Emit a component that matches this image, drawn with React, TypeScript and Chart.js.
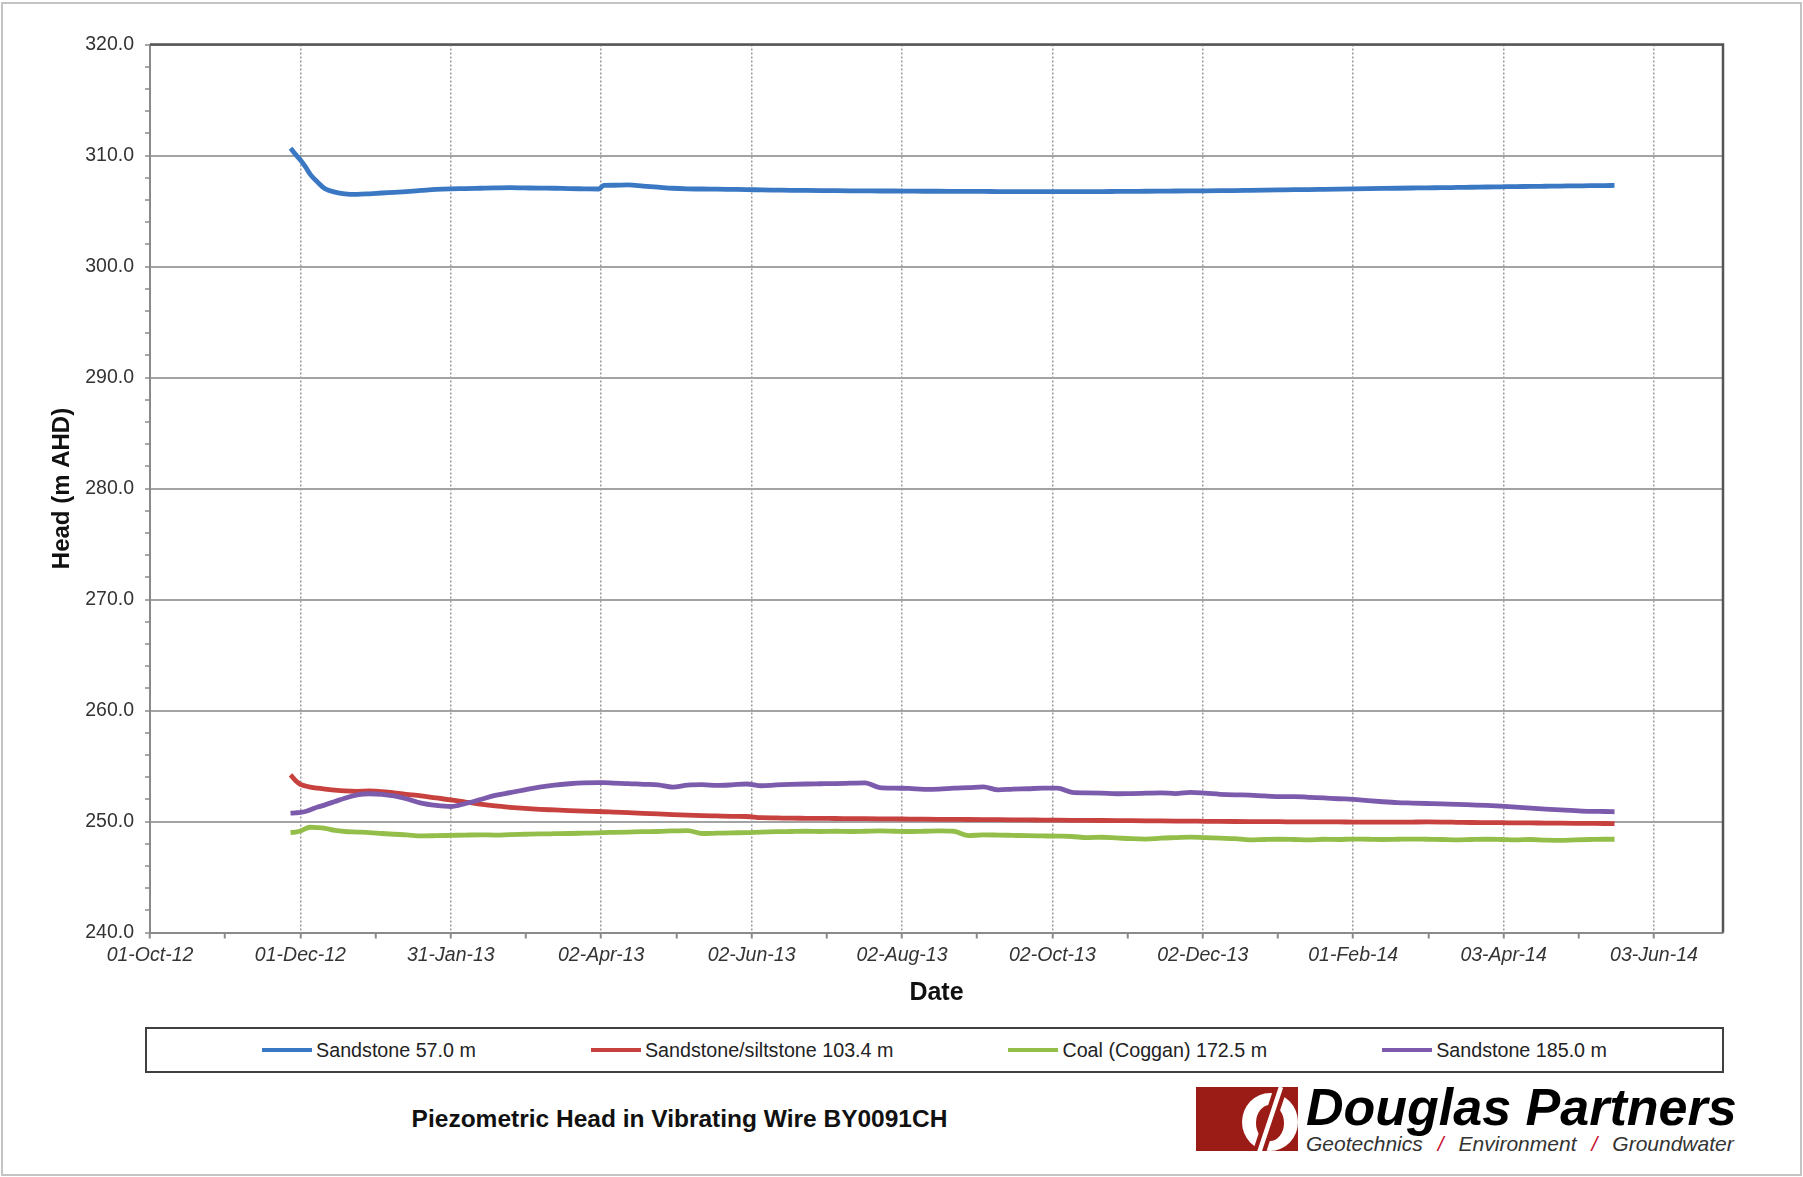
import React, { useEffect, useRef } from "react";
import { Chart, registerables } from "chart.js";

Chart.register(...registerables);

const FONT = "'Liberation Sans', Arial, Helvetica, sans-serif";

// ---- Data ----
const seriesNames = [
  "Sandstone 57.0 m",
  "Sandstone/siltstone 103.4 m",
  "Coal (Coggan) 172.5 m",
  "Sandstone 185.0 m",
];
const seriesColors = ["#3b78c4", "#c7413e", "#94be4a", "#7c5bac"];

// days since 01-Oct-12
const dayOffsets = [
  57, 59, 61, 63, 65, 68, 71, 75, 79, 84,
  89, 94, 99, 104, 110, 116, 122, 128, 134, 140,
  146, 152, 158, 164, 170, 176, 182, 184, 188, 194,
  200, 206, 212, 218, 224, 230, 236, 242, 248, 254,
  260, 266, 272, 278, 284, 290, 296, 302, 308, 314,
  320, 326, 332, 338, 344, 350, 356, 362, 368, 374,
  380, 386, 392, 398, 404, 410, 416, 422, 428, 434,
  440, 446, 452, 458, 464, 470, 476, 482, 488, 494,
  500, 506, 512, 518, 524, 530, 536, 542, 548, 554,
  560, 566, 572, 578, 584, 590, 594,
];

const sandstone57 = [
  310.65, 310.1, 309.6, 309.0, 308.3, 307.6, 307.0, 306.7, 306.55, 306.5,
  306.55, 306.62, 306.68, 306.75, 306.85, 306.95, 307.0, 307.02, 307.05, 307.08,
  307.1, 307.08, 307.06, 307.05, 307.02, 307.0, 306.98, 307.3, 307.32, 307.35,
  307.25, 307.15, 307.05, 307.0, 306.98, 306.97, 306.95, 306.93, 306.9, 306.88,
  306.86, 306.85, 306.84, 306.83, 306.82, 306.81, 306.8, 306.8, 306.79, 306.78,
  306.78, 306.77, 306.76, 306.76, 306.75, 306.75, 306.74, 306.74, 306.74, 306.74,
  306.75, 306.75, 306.76, 306.77, 306.78, 306.79, 306.8, 306.81, 306.82, 306.83,
  306.84, 306.86, 306.88, 306.9, 306.92, 306.93, 306.95, 306.97, 306.99, 307.01,
  307.03, 307.05, 307.07, 307.09, 307.1, 307.12, 307.14, 307.16, 307.18, 307.2,
  307.21, 307.23, 307.25, 307.26, 307.28, 307.29, 307.3,
];

const sandstoneSiltstone103 = [
  254.2, 253.7, 253.35, 253.2, 253.1, 253.0, 252.92, 252.82, 252.75, 252.72,
  252.75, 252.7, 252.58, 252.45, 252.3, 252.12, 251.95, 251.75, 251.56, 251.4,
  251.28, 251.18, 251.1, 251.04, 250.98, 250.93, 250.9, 250.88, 250.85, 250.8,
  250.74, 250.68, 250.62, 250.57, 250.53, 250.5, 250.47, 250.45, 250.34, 250.32,
  250.3, 250.29, 250.28, 250.27, 250.26, 250.25, 250.24, 250.23, 250.22, 250.21,
  250.2, 250.19, 250.18, 250.17, 250.16, 250.15, 250.14, 250.13, 250.12, 250.11,
  250.1, 250.09, 250.08, 250.07, 250.06, 250.05, 250.04, 250.03, 250.02, 250.01,
  250.0, 249.99, 249.98, 249.98, 249.97, 249.97, 249.96, 249.96, 249.95, 249.95,
  249.94, 249.94, 249.95, 249.96, 249.95, 249.93, 249.91, 249.9, 249.89, 249.88,
  249.87, 249.86, 249.85, 249.84, 249.83, 249.82, 249.8,
];

const coal172 = [
  249.0, 249.05, 249.15, 249.35, 249.48, 249.45, 249.38, 249.2, 249.1, 249.05,
  249.0, 248.92, 248.85, 248.8, 248.7, 248.72, 248.75, 248.78, 248.8, 248.78,
  248.82, 248.85, 248.88, 248.9, 248.92, 248.95, 248.98, 249.0, 249.02, 249.05,
  249.08, 249.1, 249.15, 249.18, 248.92, 248.95, 248.98, 249.0, 249.05, 249.08,
  249.1, 249.12, 249.1, 249.12, 249.1, 249.12, 249.15, 249.12, 249.1, 249.12,
  249.15, 249.12, 248.72, 248.8, 248.78, 248.75, 248.72, 248.7, 248.68, 248.65,
  248.55, 248.58, 248.52, 248.45, 248.42, 248.5, 248.55, 248.6, 248.55, 248.5,
  248.45, 248.35, 248.38, 248.4, 248.38, 248.35, 248.4, 248.38, 248.42, 248.4,
  248.38, 248.4, 248.42, 248.4, 248.38, 248.35, 248.38, 248.4, 248.38, 248.35,
  248.38, 248.33, 248.3, 248.35, 248.38, 248.4, 248.4,
];

const sandstone185 = [
  250.75, 250.78, 250.82, 250.9, 251.05, 251.3, 251.5, 251.8, 252.1, 252.4,
  252.5, 252.45, 252.3, 252.05, 251.65, 251.45, 251.35, 251.62, 251.98, 252.35,
  252.6, 252.85, 253.1, 253.28, 253.4, 253.48, 253.5, 253.5, 253.46, 253.42,
  253.35, 253.3, 253.1, 253.28, 253.32, 253.25, 253.3, 253.38, 253.22, 253.3,
  253.35, 253.38, 253.4, 253.42, 253.45, 253.48, 253.05, 253.0, 252.98, 252.9,
  252.92, 253.0, 253.05, 253.12, 252.85, 252.92, 252.95, 253.0, 253.0, 252.62,
  252.58, 252.55, 252.5, 252.52, 252.55, 252.58, 252.52, 252.62, 252.55, 252.45,
  252.4, 252.38, 252.3, 252.25, 252.25, 252.18, 252.12, 252.05, 252.0, 251.88,
  251.78, 251.7, 251.66, 251.62, 251.58, 251.55, 251.5, 251.45, 251.38, 251.3,
  251.2, 251.12, 251.05, 250.98, 250.92, 250.9, 250.88,
];

const seriesValues = [sandstone57, sandstoneSiltstone103, coal172, sandstone185];

// x axis: major tick positions (days since 01-Oct-12) and their labels
const xTickDays = [0, 61, 122, 183, 244, 305, 366, 427, 488, 549, 610];
const xTickLabels = [
  "01-Oct-12", "01-Dec-12", "31-Jan-13", "02-Apr-13", "02-Jun-13", "02-Aug-13",
  "02-Oct-13", "02-Dec-13", "01-Feb-14", "03-Apr-14", "03-Jun-14",
];
const xMin = 0;
const xMax = 638;

const yMin = 240;
const yMax = 320;
const yMajorStep = 10;
const yMinorStep = 2;

const chartTitle = "Piezometric Head in Vibrating Wire BY0091CH";
const xTitle = "Date";
const yTitle = "Head (m AHD)";

// ---- Helpers ----
const xAllTicks: number[] = [];
xTickDays.forEach((d, i) => {
  xAllTicks.push(d);
  if (i < xTickDays.length - 1) xAllTicks.push((d + xTickDays[i + 1]) / 2);
});
const yAllTicks: number[] = [];
for (let v = yMin; v <= yMax; v += yMinorStep) yAllTicks.push(v);

const CANVAS_W = 1803;
const CANVAS_H = 1010;
const PLOT_BOTTOM = 932.5;

const framePlugin = {
  id: "plotFrame",
  afterDraw(chart: any) {
    const { ctx, chartArea } = chart;
    const { left, top, right, bottom } = chartArea;
    ctx.save();
    ctx.strokeStyle = "#555555";
    ctx.lineWidth = 2.5;
    ctx.beginPath();
    ctx.moveTo(left, top);
    ctx.lineTo(right, top);
    ctx.lineTo(right, bottom);
    ctx.stroke();
    ctx.restore();
  },
};

export default function App() {
  const canvasRef = useRef<HTMLCanvasElement>(null);

  useEffect(() => {
    const canvas = canvasRef.current;
    if (!canvas) return;
    const chart = new Chart(canvas, {
      type: "line",
      data: {
        datasets: seriesNames.map((name, i) => ({
          label: name,
          data: dayOffsets.map((d, j) => ({ x: d, y: seriesValues[i][j] })),
          borderColor: seriesColors[i],
          backgroundColor: seriesColors[i],
          borderWidth: 4.8,
          pointRadius: 0,
          pointHoverRadius: 0,
          fill: false,
          cubicInterpolationMode: "monotone",
          order: seriesNames.length - i,
        })),
      },
      options: {
        responsive: false,
        animation: false,
        events: [],
        layout: { padding: { left: 0, right: 80, top: 44.5, bottom: 0 } },
        plugins: {
          legend: { display: false },
          tooltip: { enabled: false },
          title: { display: false },
        },
        scales: {
          x: {
            type: "linear",
            min: xMin,
            max: xMax,
            afterBuildTicks: (scale: any) => {
              scale.ticks = xAllTicks.map((v) => ({ value: v }));
            },
            afterFit: (scale: any) => {
              scale.height = CANVAS_H - PLOT_BOTTOM;
            },
            ticks: {
              autoSkip: false,
              maxRotation: 0,
              minRotation: 0,
              padding: 5,
              color: "#333333",
              font: { family: FONT, size: 19.5, style: "italic" },
              callback: (value: any) => {
                const i = xTickDays.indexOf(Number(value));
                return i >= 0 ? xTickLabels[i] : "";
              },
            },
            grid: {
              color: (ctx: any) =>
                ctx.tick && xTickDays.indexOf(ctx.tick.value) >= 0 ? "#9a9a9a" : "rgba(0,0,0,0)",
              lineWidth: 1.5,
              drawTicks: true,
              tickLength: 6,
              tickColor: "#8a8a8a",
              tickWidth: 2,
            },
            border: { display: true, color: "#8a8a8a", width: 2, dash: [2, 2] },
            title: {
              display: true,
              text: xTitle,
              color: "#111111",
              font: { family: FONT, size: 25, weight: "bold" },
              padding: { top: 0, bottom: 2 },
            },
          },
          y: {
            type: "linear",
            min: yMin,
            max: yMax,
            afterBuildTicks: (scale: any) => {
              scale.ticks = yAllTicks.map((v) => ({ value: v }));
            },
            afterFit: (scale: any) => {
              scale.width = 150;
            },
            ticks: {
              autoSkip: false,
              padding: 11,
              color: "#333333",
              font: { family: FONT, size: 19.5 },
              callback: (value: any) =>
                Number(value) % yMajorStep === 0 ? Number(value).toFixed(1) : "",
            },
            grid: {
              color: (ctx: any) =>
                ctx.tick && ctx.tick.value % yMajorStep === 0 ? "#a3a3a3" : "rgba(0,0,0,0)",
              lineWidth: 2,
              drawTicks: true,
              tickLength: 5,
              tickColor: "#8a8a8a",
              tickWidth: 1.5,
            },
            border: { display: true, color: "#8a8a8a", width: 2 },
            title: {
              display: true,
              text: yTitle,
              color: "#111111",
              font: { family: FONT, size: 24, weight: "bold" },
              padding: { top: 48, bottom: 0 },
            },
          },
        },
      },
      plugins: [framePlugin],
    } as any);
    return () => chart.destroy();
  }, []);

  return (
    <div
      style={{
        position: "absolute",
        left: 0,
        top: 0,
        width: 1803,
        height: 1177,
        background: "#ffffff",
        overflow: "hidden",
        fontFamily: FONT,
      }}
    >
      <div
        style={{
          position: "absolute",
          left: 1,
          top: 2,
          width: 1801,
          height: 1174,
          border: "2px solid #c4c4c4",
          boxSizing: "border-box",
        }}
      />
      <canvas
        ref={canvasRef}
        width={CANVAS_W}
        height={CANVAS_H}
        style={{ position: "absolute", left: 0, top: 0, width: CANVAS_W, height: CANVAS_H }}
      />
      {/* Legend */}
      <div
        style={{
          position: "absolute",
          left: 145,
          top: 1027,
          width: 1579,
          height: 46,
          border: "2px solid #404040",
          boxSizing: "border-box",
          display: "flex",
          justifyContent: "space-evenly",
          alignItems: "center",
        }}
      >
        {seriesNames.map((name, i) => (
          <div key={name} style={{ display: "flex", alignItems: "center" }}>
            <span
              style={{
                display: "inline-block",
                width: 50,
                height: 4.5,
                background: seriesColors[i],
                marginRight: 4,
              }}
            />
            <span style={{ fontSize: 19.7, color: "#222222", whiteSpace: "nowrap" }}>{name}</span>
          </div>
        ))}
      </div>
      {/* Chart title */}
      <div
        style={{
          position: "absolute",
          left: 0,
          width: 1359,
          top: 1105,
          textAlign: "center",
          fontSize: 24.5,
          lineHeight: "28px",
          fontWeight: "bold",
          color: "#111111",
          whiteSpace: "nowrap",
        }}
      >
        {chartTitle}
      </div>
      {/* Logo */}
      <div
        style={{
          position: "absolute",
          left: 1196,
          top: 1087,
          width: 102,
          height: 64,
          background: "#9b1c16",
          overflow: "hidden",
        }}
      >
        <svg width={102} height={64} viewBox="0 0 102 64">
          <ellipse cx={74} cy={35} rx={28} ry={29} fill="#ffffff" />
          <ellipse cx={74} cy={36} rx={14} ry={18} fill="#9b1c16" />
          <line x1={85} y1={0} x2={63} y2={66} stroke="#9b1c16" strokeWidth={13} />
          <line x1={85} y1={0} x2={63} y2={66} stroke="#ffffff" strokeWidth={4.5} />
        </svg>
      </div>
      <div
        style={{
          position: "absolute",
          left: 1306,
          top: 1081,
          fontSize: 52,
          lineHeight: "52px",
          fontWeight: "bold",
          fontStyle: "italic",
          color: "#000000",
          whiteSpace: "nowrap",
        }}
      >
        Douglas Partners
      </div>
      <div
        style={{
          position: "absolute",
          left: 1306,
          top: 1133,
          fontSize: 21,
          lineHeight: "21px",
          fontStyle: "italic",
          color: "#333333",
          whiteSpace: "nowrap",
        }}
      >
        <span>Geotechnics</span>
        <span style={{ color: "#c8102e", margin: "0 15px" }}>/</span>
        <span>Environment</span>
        <span style={{ color: "#c8102e", margin: "0 15px" }}>/</span>
        <span>Groundwater</span>
      </div>
    </div>
  );
}
